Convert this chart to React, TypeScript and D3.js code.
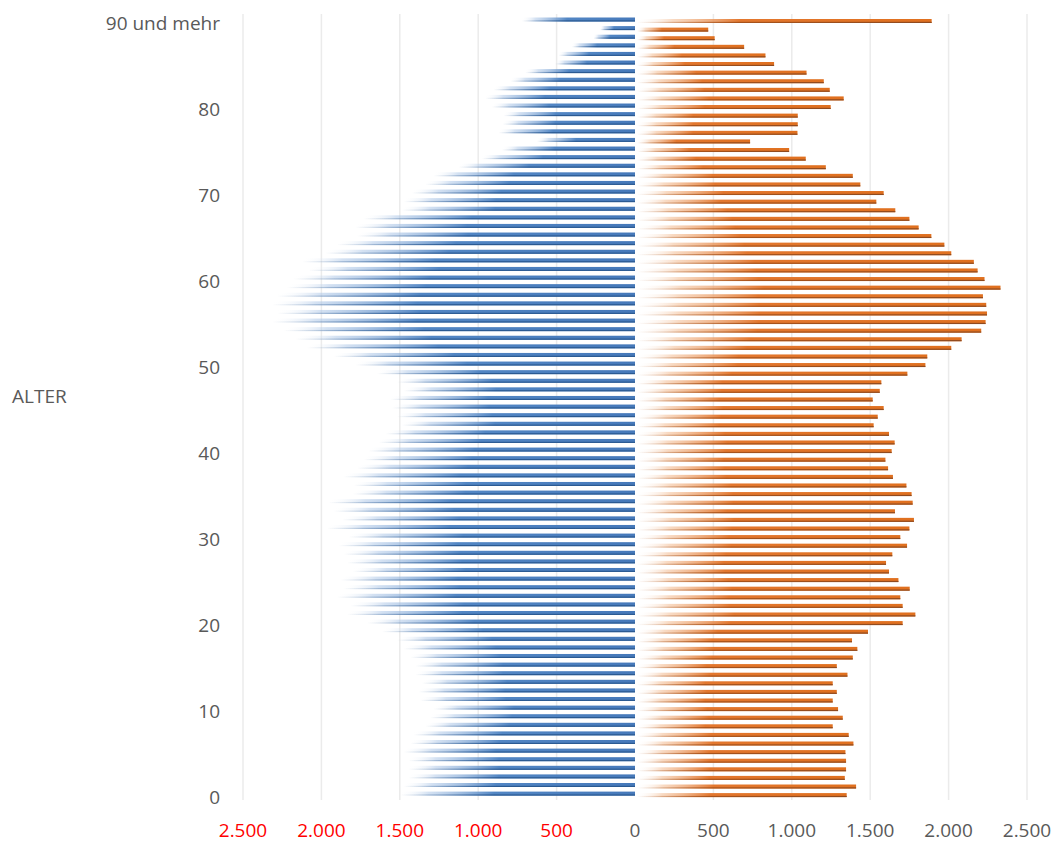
import React from 'react';
import * as d3 from 'd3';

// age groups, bottom (0) to top (90 und mehr)
const ages = [
  0, 1, 2, 3, 4, 5, 6, 7, 8, 9, 10, 11, 12, 13, 14, 15, 16, 17, 18, 19,
  20, 21, 22, 23, 24, 25, 26, 27, 28, 29, 30, 31, 32, 33, 34, 35, 36, 37, 38, 39,
  40, 41, 42, 43, 44, 45, 46, 47, 48, 49, 50, 51, 52, 53, 54, 55, 56, 57, 58, 59,
  60, 61, 62, 63, 64, 65, 66, 67, 68, 69, 70, 71, 72, 73, 74, 75, 76, 77, 78, 79,
  80, 81, 82, 83, 84, 85, 86, 87, 88, 89, 90,
];

// left side (blue), per age
const leftValues = [
  1497, 1476, 1444, 1444, 1444, 1476, 1433, 1412, 1338, 1306,
  1285, 1370, 1380, 1359, 1401, 1401, 1433, 1476, 1518, 1614,
  1709, 1837, 1815, 1900, 1858, 1879, 1800, 1837, 1858, 1890,
  1826, 1964, 1868, 1921, 1953, 1800, 1794, 1858, 1773, 1730,
  1699, 1635, 1592, 1486, 1518, 1550, 1561, 1476, 1518, 1645,
  1783, 1921, 2091, 2166, 2240, 2314, 2282, 2314, 2282, 2219,
  2176, 2081, 2123, 1975, 1900, 1773, 1783, 1730, 1486, 1476,
  1423, 1338, 1285, 1125, 977, 849, 626, 871, 845, 839,
  913, 955, 902, 796, 700, 510, 488, 403, 265, 223,
  722,
];

// right side (orange), per age
const rightValues = [
  1350, 1410, 1338, 1346, 1346, 1342, 1393, 1363, 1261, 1325,
  1295, 1261, 1287, 1261, 1355, 1287, 1389, 1418, 1384, 1486,
  1707, 1788, 1707, 1692, 1752, 1680, 1620, 1601, 1641, 1735,
  1692, 1750, 1779, 1658, 1771, 1764, 1731, 1645, 1614, 1597,
  1637, 1656, 1620, 1522, 1548, 1586, 1516, 1561, 1571, 1737,
  1852, 1864, 2017, 2083, 2208, 2236, 2245, 2240, 2219, 2331,
  2229, 2185, 2161, 2017, 1973, 1890, 1809, 1750, 1660, 1539,
  1586, 1437, 1389, 1217, 1089, 983, 734, 1036, 1038, 1038,
  1248, 1331, 1242, 1204, 1094, 887, 832, 696, 508, 467,
  1892,
];

const yTickAges = [0, 10, 20, 30, 40, 50, 60, 70, 80, 90];
const yTickLabels = ['0', '10', '20', '30', '40', '50', '60', '70', '80', '90 und mehr'];

const xTicks = [-2500, -2000, -1500, -1000, -500, 0, 500, 1000, 1500, 2000, 2500];
const xTickLabels = ['2.500', '2.000', '1.500', '1.000', '500', '0', '500', '1.000', '1.500', '2.000', '2.500'];

const W = 1054;
const H = 845;
const FONT = '"Open Sans", "Noto Sans", sans-serif';

export default function App() {
  const x = d3.scaleLinear().domain([-2500, 2500]).range([243, 1027]);
  const y = d3.scaleBand<number>()
    .domain([...ages].reverse())
    .range([16, 798.7]);
  const step = y.step();
  const cy = (a: number) => (y(a) as number) + step / 2;
  const barH = 4;

  const rows = ages.map((a, i) => ({ age: a, left: leftValues[i], right: rightValues[i] }));

  return (
    <svg width={W} height={H} style={{ position: 'absolute', left: 0, top: 0, background: '#fff' }}>
      <defs>
        <linearGradient id="blueFill" x1="0" x2="1" y1="0" y2="0">
          <stop offset="0" stopColor="#ffffff" stopOpacity="0" />
          <stop offset="0.12" stopColor="#a9c4e6" stopOpacity="0.5" />
          <stop offset="0.4" stopColor="#5286c4" stopOpacity="1" />
          <stop offset="1" stopColor="#4679ba" stopOpacity="1" />
        </linearGradient>
        <linearGradient id="blueShade" x1="0" x2="1" y1="0" y2="0">
          <stop offset="0" stopColor="#2b5a92" stopOpacity="0" />
          <stop offset="0.4" stopColor="#2b5a92" stopOpacity="1" />
          <stop offset="1" stopColor="#2b5a92" stopOpacity="1" />
        </linearGradient>
        <linearGradient id="orangeFill" x1="0" x2="1" y1="0" y2="0">
          <stop offset="0" stopColor="#ffffff" stopOpacity="0" />
          <stop offset="0.12" stopColor="#f4c29c" stopOpacity="0.6" />
          <stop offset="0.35" stopColor="#e3772e" stopOpacity="1" />
          <stop offset="1" stopColor="#e0701f" stopOpacity="1" />
        </linearGradient>
        <linearGradient id="orangeShade" x1="0" x2="1" y1="0" y2="0">
          <stop offset="0" stopColor="#a8531b" stopOpacity="0" />
          <stop offset="0.35" stopColor="#a8531b" stopOpacity="1" />
          <stop offset="1" stopColor="#8f4a1f" stopOpacity="1" />
        </linearGradient>
      </defs>

      {/* vertical gridlines */}
      <g>
        {xTicks.filter(t => t !== 0).map(t => (
          <line key={t} x1={x(t)} x2={x(t)} y1={14} y2={800} stroke="#ebebeb" strokeWidth={1.5} />
        ))}
      </g>

      {/* left bars */}
      <g>
        {rows.map(d => {
          const x0 = x(-d.left);
          const w = x(0) - x0;
          const top = cy(d.age) - 2.8;
          return (
            <g key={'l' + d.age}>
              <rect x={x0} y={top} width={w} height={barH} fill="url(#blueFill)" />
              <rect x={x0} y={top + barH - 1.2} width={w} height={1.2} fill="url(#blueShade)" />
            </g>
          );
        })}
      </g>

      {/* right bars */}
      <g>
        {rows.map(d => {
          const x0 = x(0) + 2;
          const w = x(d.right) - x0;
          const top = cy(d.age) - 1.3;
          return (
            <g key={'r' + d.age}>
              <rect x={x0} y={top} width={w} height={barH} fill="url(#orangeFill)" />
              <rect x={x0} y={top + barH - 1.2} width={w} height={1.2} fill="url(#orangeShade)" />
            </g>
          );
        })}
      </g>

      {/* y axis labels */}
      <g fontFamily={FONT} fontSize={19} fill="#595959">
        {yTickAges.map((a, i) => (
          <text key={a} x={220} y={cy(a) + 3} textAnchor="end" dominantBaseline="central">
            {yTickLabels[i]}
          </text>
        ))}
        <text x={12} y={396} dominantBaseline="central">ALTER</text>
      </g>

      {/* x axis labels */}
      <g fontFamily={FONT} fontSize={19}>
        {xTicks.map((t, i) => (
          <text
            key={t}
            x={x(t)}
            y={830}
            textAnchor="middle"
            dominantBaseline="central"
            fill={t < 0 ? '#ff0000' : '#595959'}
          >
            {xTickLabels[i]}
          </text>
        ))}
      </g>
    </svg>
  );
}
